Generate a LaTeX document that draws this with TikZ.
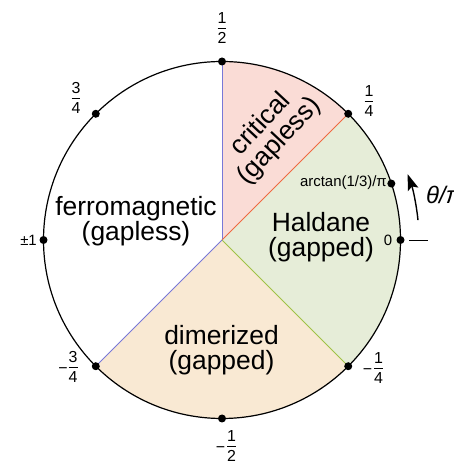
\documentclass[tikz,border=0pt]{standalone}
\usepackage{fontspec}
\setmainfont{Liberation Sans}
\usetikzlibrary{arrows.meta}
\newcommand\fr[2]{{\setlength\arrayrulewidth{0.9bp}\begin{tabular}{@{}c@{}}#1\\[-2pt]\hline\noalign{\vskip2pt}#2\end{tabular}}}
\definecolor{critcol}{RGB}{250,220,214}
\definecolor{haldcol}{RGB}{230,237,216}
\definecolor{dimcol}{RGB}{249,233,211}
\definecolor{linblue}{RGB}{120,120,215}
\definecolor{linred}{RGB}{240,105,65}
\definecolor{lingreen}{RGB}{160,195,70}
\begin{document}
\begin{tikzpicture}[x=1bp,y=1bp,
  dot/.style={circle,fill=black,inner sep=0pt,minimum size=8bp},
  fraclbl/.style={inner sep=0pt,font=\fontsize{16}{19}\selectfont},
  smalllbl/.style={inner sep=0pt,font=\fontsize{15}{17}\selectfont},
  region/.style={align=center,inner sep=0pt,font=\fontsize{26.5}{25}\selectfont},
  bline/.style={line width=0.9bp}]
\useasboundingbox (0,0) rectangle (454,468);
\begin{scope}[shift={(222,228)}]
\def\R{178.5}
\coordinate (o) at (0,0);
\coordinate (p90) at (90:\R);
\coordinate (p45) at (45:\R);
\coordinate (pm45) at (-45:\R);
\coordinate (pm135) at (-135:\R);
% fills
\fill[critcol] (o) -- (p45) arc[start angle=45,end angle=90,radius=\R] -- cycle;
\fill[haldcol] (o) -- (pm45) arc[start angle=-45,end angle=45,radius=\R] -- cycle;
\fill[dimcol] (o) -- (pm135) arc[start angle=-135,end angle=-45,radius=\R] -- cycle;
% boundaries
\draw[bline,linblue] (o) -- (p90);
\draw[bline,linred] (o) -- (p45);
\draw[bline,lingreen] (o) -- (pm45);
\draw[bline,linblue] (o) -- (pm135);
\draw[line width=1.2bp] (o) circle[radius=\R];
% dots
\node[dot] (d90) at (90:\R) {};
\node[dot] (d135) at (135:\R) {};
\node[dot] (d180) at (180:\R) {};
\node[dot] (dm135) at (-135:\R) {};
\node[dot] (dm90) at (-90:\R) {};
\node[dot] (dm45) at (-45:\R) {};
\node[dot] (d0) at (0:\R) {};
\node[dot] (darc) at (18.435:\R) {};
\node[dot] (d45) at (45:\R) {};
% labels
\node[fraclbl] (l90) at (0,210) {\fr{1}{2}};
\node[fraclbl] (l135) at (-146,140) {\fr{3}{4}};
\node[fraclbl] (l45) at (147,137) {\fr{1}{4}};
\node[smalllbl,anchor=east] (l180) at (-185,0) {±1};
\node[fraclbl] (lm135) at (-154,-129) {−\hspace{1bp}\fr{3}{4}};
\node[fraclbl] (lm90) at (4,-208) {−\hspace{2bp}\fr{1}{2}};
\node[fraclbl] (lm45) at (151,-130) {−\hspace{2bp}\fr{1}{4}};
\node[smalllbl] (l0) at (166,0) {0};
\node[smalllbl,anchor=east] (larc) at (165,57) {arctan(1/3)/π};
\coordinate (t1) at (187,0);
\coordinate (t2) at (206,0);
\draw[line width=0.9bp] (t1) -- (t2);
\node[anchor=west,inner sep=0pt,font=\fontsize{24}{26}\itshape] (theta) at (204,45) {θ/π};
\draw[line width=1.4bp,-{Stealth[length=16bp,width=11bp,inset=3bp]}] (5.8:197) arc[start angle=5.8,end angle=19.5,radius=197];
% regions
\node[region] (ferro) at (-86,19) {ferromagnetic\\(gapless)};
\node[region] (hald) at (99,3) {Haldane\\(gapped)};
\node[region] (dim) at (-0.5,-110) {dimerized\\(gapped)};
\node[region,rotate=47] (crit) at (48,107) {critical\\(gapless)};
\end{scope}
\end{tikzpicture}
\end{document}
